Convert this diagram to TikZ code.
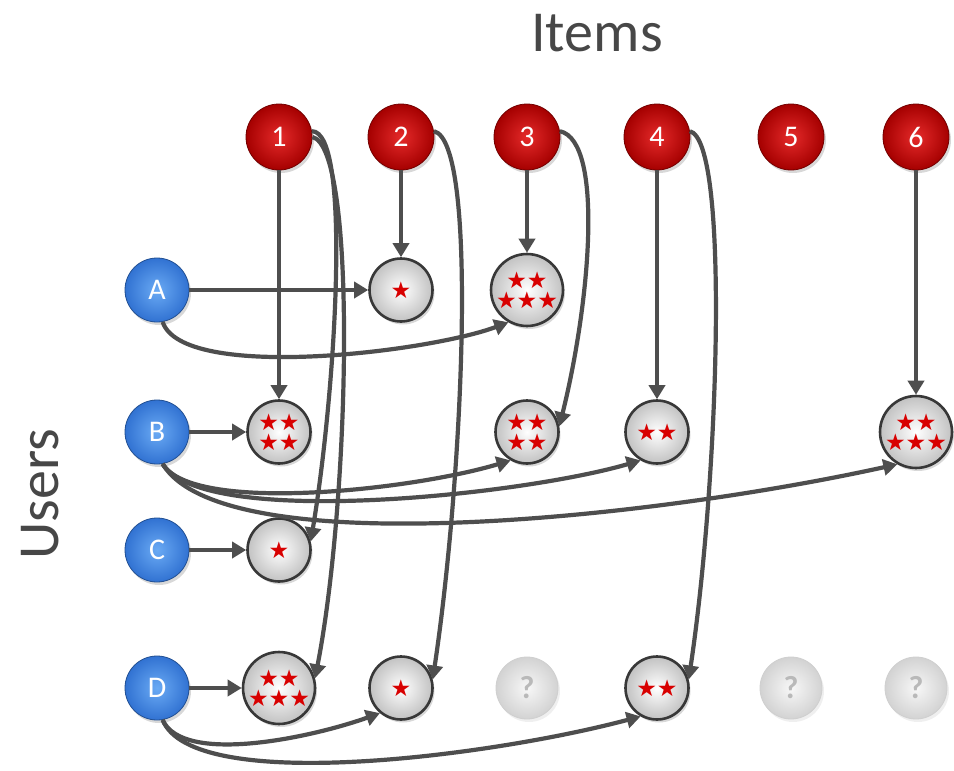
\documentclass[tikz,border=0pt]{standalone}
\usepackage{fontspec}
\setmainfont{Carlito}
\newfontfamily\symfont{DejaVu Sans}
\usetikzlibrary{shapes.geometric,shadows,arrows.meta}
\definecolor{iredin}{HTML}{E52A2A}
\definecolor{iredout}{HTML}{A50000}
\definecolor{ubluein}{HTML}{6AAAF4}
\definecolor{ublueout}{HTML}{3172D2}
\definecolor{conncol}{HTML}{4E4E4E}
\definecolor{starred}{HTML}{D80000}
\tikzset{
  itemnode/.style={circle, minimum size=66pt, inner sep=0pt, shading=radial, inner color=iredin, outer color=iredout,
    draw=iredout!70!black, line width=0.8pt,
    text=white, font=\fontsize{30}{30}\selectfont, drop shadow={shadow xshift=2pt, shadow yshift=-3pt, opacity=0.3}},
  usernode/.style={circle, minimum size=64pt, inner sep=0pt, shading=radial, inner color=ubluein, outer color=ublueout,
    draw=ublueout!70!black, line width=0.8pt,
    text=white, font=\fontsize{30}{30}\selectfont, drop shadow={shadow xshift=2pt, shadow yshift=-3pt, opacity=0.3}},
  ratenode/.style={circle, minimum size=63pt, inner sep=0pt, inner color=white, outer color=gray!48, draw=black!78,
    line width=2.6pt, align=center, text=starred, font=\symfont\fontsize{23}{20}\selectfont,
    drop shadow={shadow xshift=2pt, shadow yshift=-3pt, opacity=0.3}},
  unknode/.style={circle, minimum size=62pt, inner sep=0pt, inner color=gray!6, outer color=gray!35, draw=gray!38,
    line width=0.8pt, text=gray!55, font=\bfseries\fontsize{32}{32}\selectfont,
    drop shadow={shadow xshift=2pt, shadow yshift=-3pt, opacity=0.12}},
  conn/.style={draw=conncol, line width=4.2pt, -{Triangle[length=14pt,width=16pt]}},
  axislabel/.style={text=black!72, font=\fontsize{58}{58}\selectfont},
}
\begin{document}
\begin{tikzpicture}[x=1pt,y=-1pt]
\useasboundingbox (0,0) rectangle (954,771);
\fill[white] (0,0) rectangle (954,771);

\node[axislabel] (items) at (597,33) {Items};
\node[axislabel, rotate=90] (users) at (40,494) {Users};

% items
\node[itemnode] (I1) at (279,137) {1};
\node[itemnode] (I2) at (401,137) {2};
\node[itemnode] (I3) at (527,137) {3};
\node[itemnode] (I4) at (657,137) {4};
\node[itemnode] (I5) at (791,137) {5};
\node[itemnode] (I6) at (916,137) {6};

% users
\node[usernode] (A) at (157,290) {A};
\node[usernode] (B) at (157,432) {B};
\node[usernode] (C) at (157,550) {C};
\node[usernode] (D) at (157,688) {D};

% ratings
\node[ratenode] (A2) at (401,290) {★};
\node[ratenode] (A3) at (527,290) {★★\\★★★};
\node[ratenode] (B1) at (279,432) {★★\\★★};
\node[ratenode] (B3) at (527,432) {★★\\★★};
\node[ratenode] (B4) at (657,432) {★★};
\node[ratenode] (B6) at (916,432) {★★\\★★★};
\node[ratenode] (C1) at (279,550) {★};
\node[ratenode] (D1) at (279,688) {★★\\★★★};
\node[ratenode] (D2) at (401,688) {★};
\node[unknode] (D3) at (527,688) {?};
\node[ratenode] (D4) at (657,688) {★★};
\node[unknode] (D5) at (791,688) {?};
\node[unknode] (D6) at (916,688) {?};

% vertical item arrows
\draw[conn] (I1) -- (B1);
\draw[conn] (I2) -- (A2);
\draw[conn] (I3) -- (A3);
\draw[conn] (I4) -- (B4);
\draw[conn] (I6) -- (B6);

% curved item arrows
\draw[conn] (I1.10) .. controls +(40,0) and +(25,-150) .. (C1.15);
\draw[conn] (I1.0) .. controls +(45,10) and +(35,-180) .. (D1.15);
\draw[conn] (I2.10) .. controls +(45,10) and +(30,-200) .. (D2.15);
\draw[conn] (I3.10) .. controls +(45,10) and +(30,-120) .. (B3.10);
\draw[conn] (I4.10) .. controls +(40,10) and +(30,-200) .. (D4.15);

% straight user arrows
\draw[conn] (A) -- (A2);
\draw[conn] (B) -- (B1);
\draw[conn] (C) -- (C1);
\draw[conn] (D) -- (D1);

% curved user arrows
\draw[conn] (A.-80) .. controls +(20,60) and +(-80,30) .. (A3.-120);
\draw[conn] (B.-80) .. controls +(30,50) and +(-100,30) .. (B3.-120);
\draw[conn] (B.-80) .. controls +(40,65) and +(-120,35) .. (B4.-120);
\draw[conn] (B.-80) .. controls +(60,100) and +(-250,55) .. (B6.-120);
\draw[conn] (D.-80) .. controls +(20,45) and +(-70,25) .. (D2.-130);
\draw[conn] (D.-80) .. controls +(30,75) and +(-150,40) .. (D4.-120);
\end{tikzpicture}
\end{document}
